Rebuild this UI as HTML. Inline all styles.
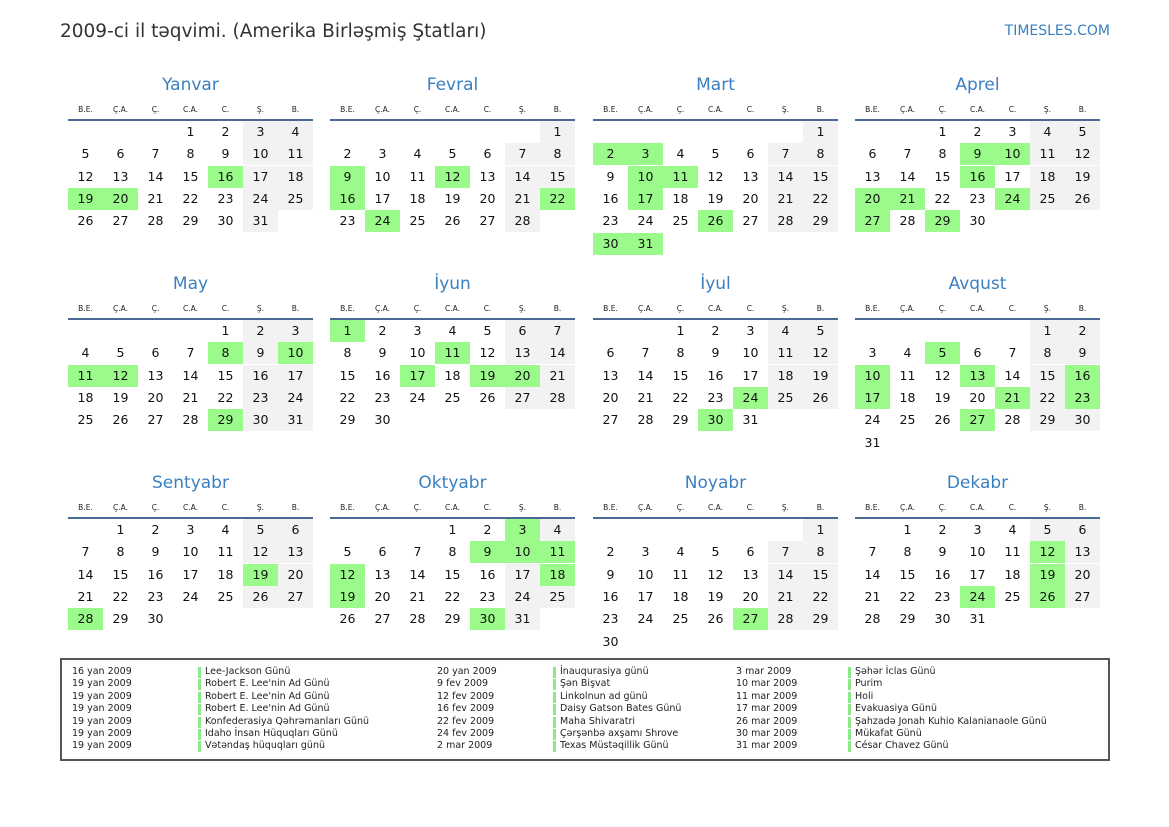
<!DOCTYPE html>
<html><head><meta charset="utf-8"><style>
body{margin:0;width:1169px;height:827px;background:#fff;position:relative;overflow:hidden;font-family:"DejaVu Sans","Liberation Sans",sans-serif;color:#111}
.a{position:absolute}
.t{left:60px;top:21px;font-size:18.5px;color:#333}
.logo{right:59px;top:23px;font-size:14px;color:#3a7fc1}
.mt{font-size:17px;color:#3a7fc1;text-align:center;width:245px}
.hd{font-size:7.5px;width:35px;text-align:center;color:#222}
.ln{height:2px;background:#4a6a95;width:245px}
.c{width:35px;height:22px;line-height:22px;text-align:center;font-size:12.5px}
.lg{left:60px;top:658px;width:1046px;height:99px;border:2px solid #555}
.r{font-size:9.5px;color:#222;white-space:nowrap}
.bar{width:3px;height:11px;background:#8de88a}
</style></head><body>
<div class="a t">2009-ci il təqvimi. (Amerika Birləşmiş Ştatları)</div>
<div class="a logo">TIMESLES.COM</div>
<div class="a lg"></div>
<div id="root"></div>
<script>
var names=["Yanvar","Fevral","Mart","Aprel","May","İyun","İyul","Avqust","Sentyabr","Oktyabr","Noyabr","Dekabr"];
var hd=["B.E.","Ç.A.","Ç.","C.A.","C.","Ş.","B."];
var hol={0:[16,19,20],1:[9,12,16,22,24],2:[2,3,10,11,17,26,30,31],3:[9,10,16,20,21,24,27,29],4:[8,10,11,12,29],5:[1,11,17,19,20],6:[24,30],7:[5,10,13,16,17,21,23,27],8:[19,28],9:[3,9,10,11,12,18,19,30],10:[27],11:[12,19,24,26]};
var h="";
var xs=[68,330,593,855];
for(var m=0;m<12;m++){
 var x=xs[m%4],y=70+199*Math.floor(m/4);
 h+='<div class="a mt" style="left:'+x+'px;top:'+(y+5)+'px">'+names[m]+'</div>';
 for(var i=0;i<7;i++)h+='<div class="a hd" style="left:'+(x+35*i)+'px;top:'+(y+35)+'px">'+hd[i]+'</div>';
 h+='<div class="a ln" style="left:'+x+'px;top:'+(y+49)+'px"></div>';
 var off=(new Date(2009,m,1).getDay()+6)%7, n=new Date(2009,m+1,0).getDate();
 for(var d=1;d<=n;d++){
  var p=off+d-1,col=p%7,row=Math.floor(p/7);
  var bg=hol[m].indexOf(d)>=0?"#9bfb8a":(col>=5?"#f2f2f2":"transparent");
  h+='<div class="a c" style="left:'+(x+35*col)+'px;top:'+(y+51+22.3*row)+'px;background:'+bg+'">'+d+'</div>';
 }
}
var L=[
[["16 yan 2009","Lee-Jackson Günü"],["19 yan 2009","Robert E. Lee'nin Ad Günü"],["19 yan 2009","Robert E. Lee'nin Ad Günü"],["19 yan 2009","Robert E. Lee'nin Ad Günü"],["19 yan 2009","Konfederasiya Qəhrəmanları Günü"],["19 yan 2009","Idaho İnsan Hüquqları Günü"],["19 yan 2009","Vətəndaş hüquqları günü"]],
[["20 yan 2009","İnauqurasiya günü"],["9 fev 2009","Şən Bişvat"],["12 fev 2009","Linkolnun ad günü"],["16 fev 2009","Daisy Gatson Bates Günü"],["22 fev 2009","Maha Shivaratri"],["24 fev 2009","Çərşənbə axşamı Shrove"],["2 mar 2009","Texas Müstəqillik Günü"]],
[["3 mar 2009","Şəhər İclas Günü"],["10 mar 2009","Purim"],["11 mar 2009","Holi"],["17 mar 2009","Evakuasiya Günü"],["26 mar 2009","Şahzadə Jonah Kuhio Kalanianaole Günü"],["30 mar 2009","Mükafat Günü"],["31 mar 2009","César Chavez Günü"]]];
var cx=[[72,198,205],[437,553,560],[736,848,855]];
for(var k=0;k<3;k++)for(var j=0;j<7;j++){
 var yy=666+12.4*j;
 h+='<div class="a r" style="left:'+cx[k][0]+'px;top:'+yy+'px">'+L[k][j][0]+'</div>';
 h+='<div class="a bar" style="left:'+cx[k][1]+'px;top:'+(yy+1)+'px"></div>';
 h+='<div class="a r" style="left:'+cx[k][2]+'px;top:'+yy+'px">'+L[k][j][1]+'</div>';
}
document.getElementById("root").innerHTML=h;
</script>
</body></html>
